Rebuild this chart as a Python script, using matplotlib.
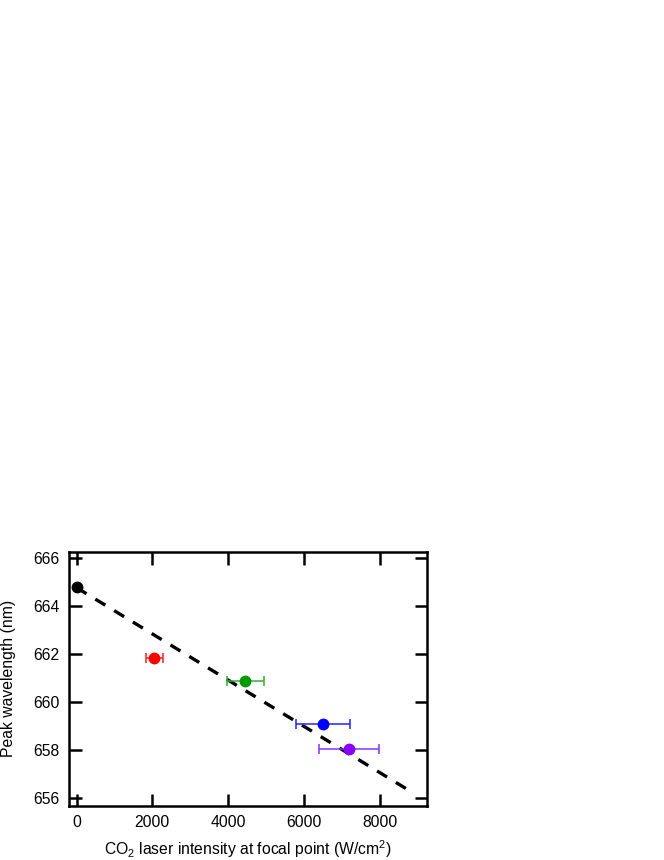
import matplotlib
matplotlib.use("Agg")
import matplotlib.pyplot as plt
import numpy as np

plt.rcParams['font.family'] = ['Liberation Sans', 'DejaVu Sans']
plt.rcParams['mathtext.fontset'] = 'custom'
plt.rcParams['mathtext.rm'] = 'Liberation Sans'

# data
intensity = [0, 2050, 4450, 6510, 7190]
intensity_err = [0, 230, 490, 720, 790]
peak = [664.82, 661.86, 660.9, 659.11, 658.04]
marker_colors = ['black', '#ff0000', '#009900', '#0000ff', '#8800ff']
bar_colors = ['black', '#ff2020', '#33b033', '#2020ff', '#8833ff']

# linear fit drawn as the dashed line
fit_x = [0, 8860]
fit_intercept = 664.78
fit_slope = -0.000963

fig = plt.figure(figsize=(6.64, 8.6), dpi=100)
ax = fig.add_axes([0.1039, 0.0631, 0.5391, 0.2954])

fx = np.array(fit_x)
ax.plot(fx, fit_intercept + fit_slope * fx, linestyle=(0, (3.5, 3.1)), color='black', lw=2.4, zorder=2)

for i in range(len(intensity)):
    if intensity_err[i] > 0:
        ax.errorbar(intensity[i], peak[i], xerr=intensity_err[i], fmt='none',
                    ecolor=bar_colors[i], elinewidth=1.1, capsize=3.5, capthick=1.1, zorder=3)
    ax.plot(intensity[i], peak[i], 'o', color=marker_colors[i], ms=7.5, zorder=4)

ax.set_xlim(-200, 9250)
ax.set_ylim(655.69, 666.28)
ax.set_xticks([0, 2000, 4000, 6000, 8000])
ax.set_yticks([656, 658, 660, 662, 664, 666])

ax.tick_params(direction='in', length=9, width=1.8, top=True, right=True,
               labelsize=11.3, pad=7)
for s in ax.spines.values():
    s.set_linewidth(1.8)

ax.set_xlabel(r'CO$_2$ laser intensity at focal point (W/cm$^2$)', fontsize=11.3, labelpad=6)
ax.set_ylabel('Peak wavelength (nm)', fontsize=11.3, labelpad=12)

fig.savefig('out.png', dpi=100)
